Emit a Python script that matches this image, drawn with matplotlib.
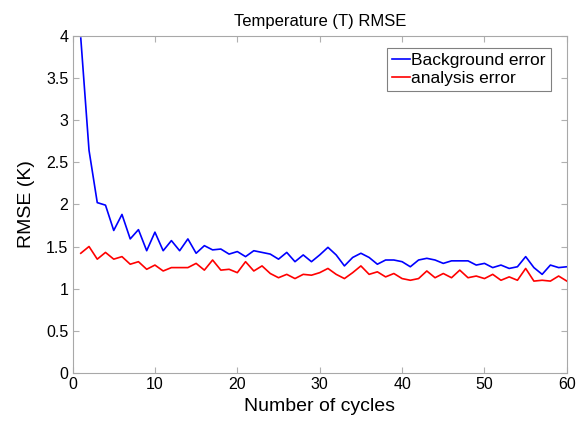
import matplotlib
matplotlib.use("Agg")
import matplotlib.pyplot as plt

cycles = list(range(1, 61))
background_error = [3.97, 2.64, 2.02, 1.99, 1.69, 1.88, 1.59, 1.70, 1.45, 1.67,
                    1.45, 1.57, 1.45, 1.59, 1.42, 1.51, 1.46, 1.47, 1.41, 1.44,
                    1.38, 1.45, 1.43, 1.41, 1.35, 1.43, 1.32, 1.40, 1.32, 1.40,
                    1.49, 1.40, 1.27, 1.37, 1.42, 1.37, 1.29, 1.34, 1.34, 1.32,
                    1.26, 1.34, 1.36, 1.34, 1.30, 1.33, 1.33, 1.33, 1.28, 1.30,
                    1.25, 1.28, 1.24, 1.26, 1.38, 1.25, 1.17, 1.28, 1.25, 1.26]
analysis_error = [1.42, 1.50, 1.35, 1.43, 1.35, 1.38, 1.29, 1.32, 1.23, 1.28,
                  1.21, 1.25, 1.25, 1.25, 1.30, 1.22, 1.34, 1.22, 1.23, 1.19,
                  1.32, 1.21, 1.27, 1.18, 1.13, 1.17, 1.12, 1.17, 1.16, 1.19,
                  1.24, 1.17, 1.12, 1.19, 1.27, 1.17, 1.20, 1.14, 1.18, 1.12,
                  1.10, 1.12, 1.21, 1.13, 1.18, 1.13, 1.22, 1.13, 1.15, 1.12,
                  1.17, 1.10, 1.14, 1.10, 1.24, 1.09, 1.10, 1.09, 1.15, 1.09]
xticks = [0, 10, 20, 30, 40, 50, 60]
yticks = [0, 0.5, 1, 1.5, 2, 2.5, 3, 3.5, 4]
ytick_labels = ["0", "0.5", "1", "1.5", "2", "2.5", "3", "3.5", "4"]

plt.rcParams['font.family'] = ['Liberation Sans', 'DejaVu Sans']

fig = plt.figure(figsize=(5.85, 4.23), dpi=100)
ax = fig.add_axes([0.124, 0.118, 0.845, 0.798])

ax.plot(cycles, background_error, color="#0000ff", lw=1.2, label="Background error")
ax.plot(cycles, analysis_error, color="#ff0000", lw=1.2, label="analysis error")

ax.set_xlim(0, 60)
ax.set_ylim(0, 4)
ax.set_xticks(xticks)
ax.set_yticks(yticks)
ax.set_yticklabels(ytick_labels)
ax.tick_params(direction="in", top=True, right=True, labelsize=11.5,
               color="#b0b0b0", length=4, width=0.8, pad=3)
for s in ax.spines.values():
    s.set_color("#a8a8a8")
    s.set_linewidth(0.8)

ax.set_xlabel("Number of cycles", fontsize=14, labelpad=4)
ax.set_ylabel("RMSE (K)", fontsize=14, labelpad=8)
ax.set_title("Temperature (T) RMSE", fontsize=12, pad=7)

leg = ax.legend(loc="upper right", bbox_to_anchor=(0.968, 0.9635),
                fontsize=12.5, handlelength=1.0,
                handletextpad=0.1, borderpad=0.3, labelspacing=0.15,
                fancybox=False, framealpha=1, borderaxespad=0.0)
leg.get_frame().set_edgecolor("#808080")
leg.get_frame().set_linewidth(0.8)

fig.savefig("out.png", dpi=100)
